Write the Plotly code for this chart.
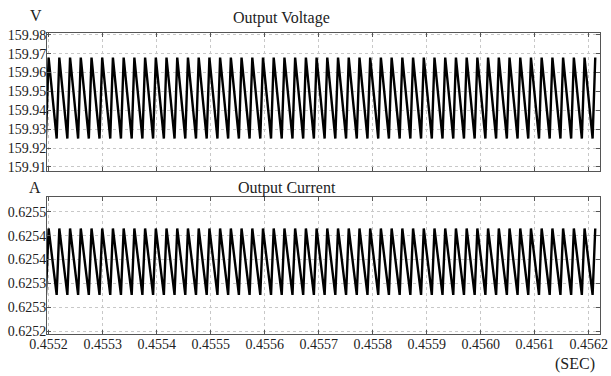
import plotly.graph_objects as go

# Time offsets (microseconds after 0.4552 s) of waveform vertices
t_peak_us = [0, 19.8, 39.7, 59.5, 79.4, 99.2, 119.0, 138.9, 158.7, 178.6, 198.4, 218.2, 238.1,
             257.9, 277.8, 297.6, 317.4, 337.3, 357.1, 377.0, 396.8, 416.6, 436.5, 456.3, 476.2,
             496.0, 515.8, 535.7, 555.5, 575.4, 595.2, 615.0, 634.9, 654.7, 674.6, 694.4, 714.2,
             734.1, 753.9, 773.8, 793.6, 813.4, 833.3, 853.1, 873.0, 892.8, 912.6, 932.5, 952.3,
             972.2, 992.0, 1011.8]
t_trough_us = [-5.0, 14.9, 34.7, 54.6, 74.4, 94.2, 114.1, 133.9, 153.8, 173.6, 193.4, 213.3, 233.1,
               253.0, 272.8, 292.6, 312.5, 332.3, 352.2, 372.0, 391.8, 411.7, 431.5, 451.4,
               471.2, 491.0, 510.9, 530.7, 550.6, 570.4, 590.2, 610.1, 629.9, 649.8, 669.6,
               689.4, 709.3, 729.1, 749.0, 768.8, 788.6, 808.5, 828.3, 848.2, 868.0, 887.8,
               907.7, 927.5, 947.4, 967.2, 987.0, 1006.9]
T0 = 0.4552

v_peak = [159.968] * len(t_peak_us)
v_trough = [159.925] * len(t_trough_us)
i_peak = [0.625465] * len(t_peak_us)
i_trough = [0.625326] * len(t_trough_us)

x_ticks = [0.4552, 0.4553, 0.4554, 0.4555, 0.4556, 0.4557, 0.4558, 0.4559, 0.4560, 0.4561, 0.4562]
x_ticktext = ["0.4552", "0.4553", "0.4554", "0.4555", "0.4556", "0.4557", "0.4558", "0.4559",
              "0.4560", "0.4561", "0.4562"]
v_ticks = [159.91, 159.92, 159.93, 159.94, 159.95, 159.96, 159.97, 159.98]
v_ticktext = ["159.91", "159.92", "159.93", "159.94", "159.95", "159.96", "159.97", "159.98"]
i_ticks = [0.62525, 0.62530, 0.62535, 0.62540, 0.62545, 0.62550]
i_ticktext = ["0.6252", "0.6253", "0.6253", "0.6254", "0.6254", "0.6255"]


def build(tp, tt, yp, yt):
    pts = []
    for t, y in zip(tt, yt):
        pts.append((T0 + t * 1e-6, y))
    for t, y in zip(tp, yp):
        pts.append((T0 + t * 1e-6, y))
    pts.sort()
    return [p[0] for p in pts], [p[1] for p in pts]


vx, vy = build(t_peak_us, t_trough_us, v_peak, v_trough)
ix, iy = build(t_peak_us, t_trough_us, i_peak, i_trough)

FONT = "Liberation Serif"
TXT = "#222222"
fig = go.Figure()
fig.add_trace(go.Scatter(x=vx, y=vy, mode="lines", line=dict(color="black", width=2.4),
                         xaxis="x", yaxis="y", showlegend=False, hoverinfo="skip"))
fig.add_trace(go.Scatter(x=ix, y=iy, mode="lines", line=dict(color="black", width=2.4),
                         xaxis="x2", yaxis="y2", showlegend=False, hoverinfo="skip"))

xr = [0.455197, 0.4562206]
common_x = dict(range=xr, tickvals=x_ticks, ticktext=x_ticktext, showgrid=True,
                gridcolor="#c8c8c8", griddash="dot", gridwidth=1, showline=True,
                linecolor="#555555", linewidth=1, mirror="ticks", ticks="inside",
                ticklen=4, tickcolor="#555555", zeroline=False,
                tickfont=dict(family=FONT, size=14, color=TXT), ticklabelstandoff=-3,
                ticklabeloverflow="allow")
common_y = dict(showgrid=True, gridcolor="#c8c8c8", griddash="dot", gridwidth=1,
                showline=True, linecolor="#555555", linewidth=1, mirror="ticks",
                ticks="inside", ticklen=4, tickcolor="#555555", zeroline=False,
                tickfont=dict(family=FONT, size=14, color=TXT), ticklabelstandoff=-3)

W, H = 611, 376
L, R, T, B = 47, 3, 33, 42
pw, ph = W - L - R, H - T - B

fig.update_layout(
    width=W, height=H,
    margin=dict(l=L, r=R, t=T, b=B),
    paper_bgcolor="white", plot_bgcolor="white",
    font=dict(family=FONT, size=16, color=TXT),
    xaxis=dict(**common_x, domain=[0, 1], anchor="y", showticklabels=False),
    yaxis=dict(**common_y, domain=[0.5415, 1], anchor="x", range=[159.9078, 159.981],
               tickvals=v_ticks, ticktext=v_ticktext),
    xaxis2=dict(**common_x, domain=[0, 1], anchor="y2"),
    yaxis2=dict(**common_y, domain=[0, 0.4551], anchor="x2", range=[0.625244, 0.625531],
                tickvals=i_ticks, ticktext=i_ticktext),
)

# text labels placed by pixel position (x from left, y from top)
labels = [("Output Voltage", 285, 18), ("Output Current", 290, 188), ("V", 36, 15),
          ("A", 35, 188), ("(SEC)", 583, 364)]
fig.update_layout(annotations=[
    dict(text=t, x=(px - L) / pw, y=(H - py - B) / ph, xref="paper", yref="paper",
         showarrow=False, xanchor="center", yanchor="middle",
         font=dict(family=FONT, size=16, color=TXT))
    for t, px, py in labels
])

fig.write_html("out.html", config={"displayModeBar": False},
               post_script="document.body.style.margin='0';")
